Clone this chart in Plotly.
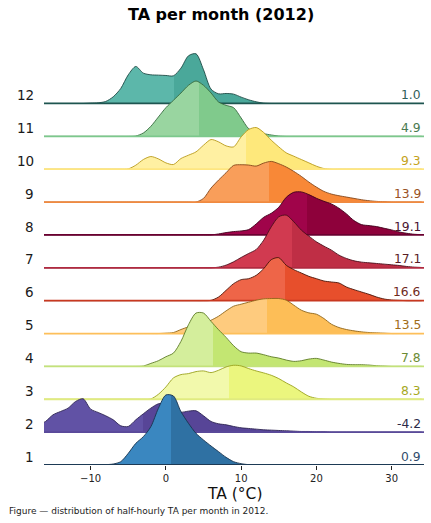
import plotly.graph_objects as go

# temperature grid (°C) and per-month relative density
ta_grid = list(range(-17, 35))

months = ["1", "2", "3", "4", "5", "6", "7", "8", "9", "10", "11", "12"]
month_mean = [0.9, -4.2, 8.3, 7.8, 13.5, 16.6, 17.1, 19.1, 13.9, 9.3, 4.9, 1.0]
month_median = [0.7, -3.0, 8.4, 6.3, 13.4, 15.8, 16.7, 18.8, 13.7, 10.7, 4.4, 1.1]

dens_jan = [0] * 9 + [1, 3, 10, 35, 65, 85, 115, 170, 210, 207, 160, 125, 95, 75, 57, 40, 23, 10, 4, 1] + [0] * 23
dens_feb = [20, 32, 52, 62, 72, 92, 100, 69, 59, 49, 37, 19, 17, 37, 55, 72, 85, 85, 72, 60, 63, 64, 49, 32,
            25, 22, 17, 13, 11, 9, 7, 6, 5, 4, 3, 2, 2, 1, 1] + [0] * 13
dens_mar = [0] * 15 + [1, 15, 37, 64, 74, 77, 83, 85, 80, 87, 97, 102, 100, 92, 85, 79, 72, 62, 49, 37, 22, 9,
                       3, 1] + [0] * 13
dens_apr = [0] * 14 + [1, 9, 17, 29, 40, 75, 125, 160, 160, 135, 110, 87, 62, 44, 40, 40, 35, 29, 25, 19, 15,
                       17, 22, 24, 19, 13, 9, 6, 5, 5, 4, 2, 1] + [0] * 5
dens_may = [0] * 17 + [1, 3, 12, 20, 26, 31, 40, 52, 68, 82, 88, 94, 100, 104, 105, 105, 100, 85, 70, 62, 58,
                       45, 28, 18, 12, 8, 5, 3, 2, 1] + [0] * 5
dens_jun = [0] * 23 + [1, 11, 31, 51, 63, 66, 76, 96, 123, 129, 106, 93, 83, 73, 66, 59, 56, 53, 41, 33, 26,
                       19, 11, 5, 2, 1] + [0] * 3
dens_jul = [0] * 24 + [2, 8, 18, 31, 43, 55, 83, 123, 153, 158, 138, 113, 95, 78, 65, 53, 38, 28, 21, 17, 15,
                       13, 11, 9, 7, 4, 2, 1]
dens_aug = [0] * 24 + [3, 7, 10, 12, 16, 33, 53, 65, 83, 113, 128, 129, 121, 110, 101, 93, 80, 63, 43, 31, 28,
                       25, 20, 15, 9, 5, 2, 1]
dens_sep = [0] * 22 + [11, 42, 66, 88, 110, 112, 111, 108, 117, 122, 115, 105, 92, 77, 60, 45, 32, 24, 19, 15,
                       11, 7, 4, 2, 1] + [0] * 5
dens_oct = [0] * 12 + [1, 12, 29, 38, 31, 19, 14, 32, 42, 52, 72, 89, 82, 70, 67, 97, 119, 125, 110, 87, 67,
                       49, 39, 29, 19, 9, 2] + [0] * 13
dens_nov = [0] * 13 + [1, 10, 30, 58, 86, 108, 130, 153, 166, 153, 130, 103, 93, 86, 55, 23, 12, 8, 4,
                       1] + [0] * 19
dens_dec = [0] * 7 + [1, 2, 6, 20, 45, 86, 111, 91, 86, 85, 84, 83, 106, 143, 149, 101, 43, 29, 30, 28, 19, 11,
                      5, 1] + [0] * 21

densities = [dens_jan, dens_feb, dens_mar, dens_apr, dens_may, dens_jun,
             dens_jul, dens_aug, dens_sep, dens_oct, dens_nov, dens_dec]

tick_vals = [-10, 0, 10, 20, 30]

# styles, month 1 .. 12
LIGHT = ['#3a87c0', '#6152a5', '#f2f9ac', '#d4ee9c', '#fecb7e', '#ee6548',
         '#d13a50', '#a0044a', '#f99e5a', '#fff0a2', '#99d5a0', '#5cb7aa']
DARK = ['#2f71a3', '#574597', '#ebf67e', '#c3e672', '#fdbe57', '#e74f2c',
        '#bf2e45', '#8e013b', '#f88837', '#fee87b', '#80ca8c', '#4aa89a']
EDGE = ['#17324d', '#2e2552', '#9aa21c', '#5e7a26', '#8f6418', '#4a1408',
        '#4a0c18', '#3d0018', '#84461a', '#b89a1c', '#356a3e', '#1d4a44']
LABEL = ['#2f4a6a', '#2c2a48', '#a6a81e', '#6b8b34', '#a06c18', '#6e2a1c',
         '#5a1e26', '#4a1432', '#9a5224', '#c4a220', '#497a51', '#2f5e58']
BASE = ['#1d3a55', '#5a4a9a', '#e0eb80', '#c3e27a', '#fdbf5a', '#c83820',
        '#b02a40', '#6a0030', '#f08a40', '#fee680', '#7cc88c', '#1e5550']

SPACING = 98.6
X_RANGE = [-16.2, 34.3]
FONT = "DejaVu Sans"

fig = go.Figure()

x0, x1 = ta_grid[0], ta_grid[-1]
for i in reversed(range(len(months))):
    off = i * SPACING
    ys = [off + d for d in densities[i]]
    frac = (month_median[i] - x0) / (x1 - x0)
    # invisible baseline to fill against
    fig.add_trace(go.Scatter(x=ta_grid, y=[off] * len(ta_grid), mode='lines',
                             line=dict(width=0), hoverinfo='skip', showlegend=False))
    fig.add_trace(go.Scatter(
        x=ta_grid, y=ys, mode='lines', fill='tonexty',
        line=dict(color=EDGE[i], width=0.9, shape='spline', smoothing=0.8),
        fillgradient=dict(type='horizontal', start=x0, stop=x1,
                          colorscale=[[0, LIGHT[i]], [frac, LIGHT[i]],
                                      [min(frac + 1e-4, 1), DARK[i]], [1, DARK[i]]]),
        name=months[i], showlegend=False))
    fig.add_trace(go.Scatter(x=[X_RANGE[0] - 1, X_RANGE[1] + 1], y=[off, off], mode='lines',
                             line=dict(color=BASE[i], width=1.8), hoverinfo='skip', showlegend=False))

    fig.add_annotation(x=-0.02, xref='paper', y=off + 25, yref='y', text=months[i],
                       showarrow=False, xanchor='right', yanchor='middle',
                       font=dict(family=FONT, size=13.5, color='#1a1a1a'))
    fig.add_annotation(x=0.998, xref='paper', y=off + 25, yref='y', text=f"{month_mean[i]:.1f}",
                       showarrow=False, xanchor='right', yanchor='middle',
                       font=dict(family=FONT, size=12.3, color=LABEL[i]))

fig.add_annotation(x=0.5, xref='paper', y=-0.068, yref='paper', text="TA (°C)",
                   showarrow=False, xanchor='center', yanchor='middle',
                   font=dict(family=FONT, size=15.5, color='#111111'))
# caption, left edge at 7 px of the figure
fig.add_annotation(x=(7 - 44) / 380, xref='paper', y=-0.108, yref='paper',
                   text="Figure — distribution of half-hourly TA per month in 2012.",
                   showarrow=False, xanchor='left', yanchor='middle',
                   font=dict(family=FONT, size=9, color='#222222'))

fig.update_layout(
    width=431, height=523,
    margin=dict(l=44, r=7, t=40, b=58),
    paper_bgcolor='white', plot_bgcolor='white',
    title=dict(text="<b>TA per month (2012)</b>", x=0.513, xref='container', xanchor='center',
               y=1 - 14 / 523, yref='container', yanchor='middle',
               font=dict(family=FONT, size=16, color='black')),
    xaxis=dict(range=X_RANGE, tickvals=tick_vals, showgrid=False, zeroline=False, showline=False,
               ticks='outside', ticklen=4, tickwidth=1, tickcolor='#222222',
               tickfont=dict(family=FONT, size=10, color='#222222')),
    yaxis=dict(range=[0, 1275], visible=False, showgrid=False, zeroline=False, fixedrange=True),
    showlegend=False,
)

# drop the browser's default body margin so the figure sits at the page corner
fig.write_html("out.html", config={'displayModeBar': False},
               post_script="document.body.style.margin='0';")
